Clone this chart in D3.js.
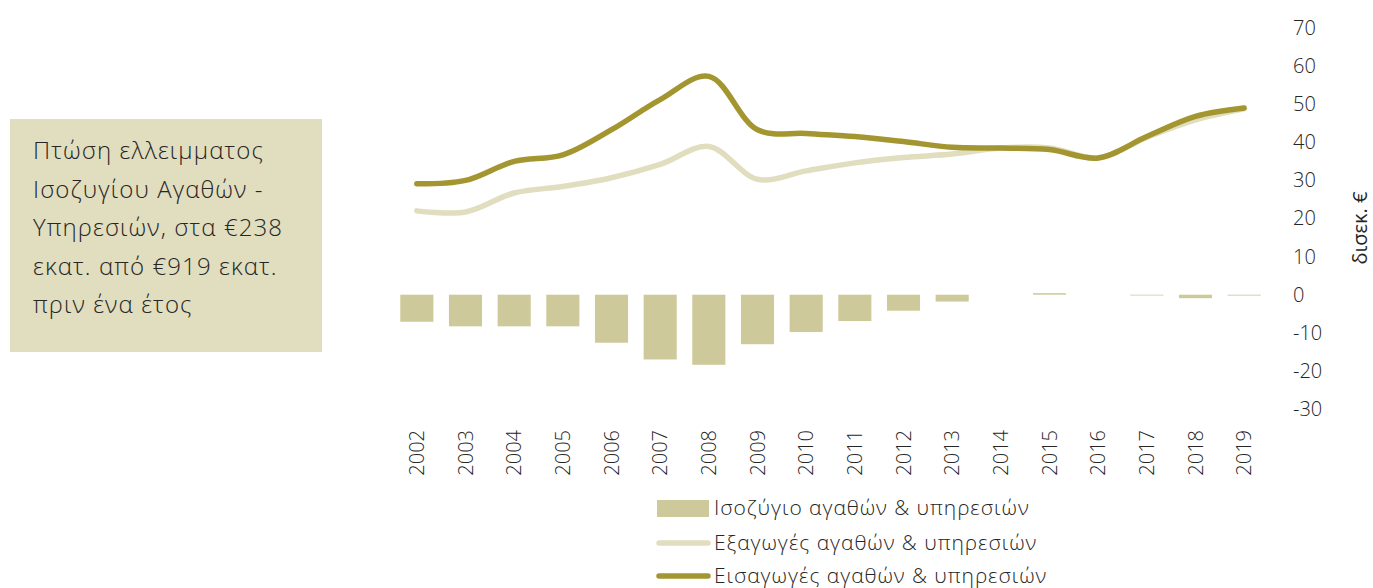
<!DOCTYPE html>
<html>
<head>
<meta charset="utf-8">
<script src="https://cdn.jsdelivr.net/npm/d3@7"></script>
<style>
  html, body { margin: 0; padding: 0; background: #fff; }
  svg text { font-family: "Open Sans", "Noto Sans", sans-serif; font-weight: 300; fill: #262626; }
</style>
</head>
<body>
<svg id="chart" width="1373" height="588"></svg>
<script>
// Years on the category axis
const years = ["2002","2003","2004","2005","2006","2007","2008","2009","2010",
               "2011","2012","2013","2014","2015","2016","2017","2018","2019"];

// Balance of goods & services (bn €)
const balance = [-7.1, -8.3, -8.3, -8.3, -12.6, -17.0, -18.4, -13.0, -9.8,
                 -6.9, -4.2, -1.8, 0.0, 0.4, 0.0, -0.2, -0.919, -0.238];

// Exports of goods & services (bn €)
const exportsVals = [22.0, 21.7, 26.7, 28.4, 30.7, 34.2, 38.9, 30.3, 32.5,
                     34.6, 36.0, 36.9, 38.5, 38.5, 35.9, 41.3, 45.9, 48.8];

// Imports of goods & services (bn €)
const importsVals = [29.1, 30.0, 35.0, 36.7, 43.3, 51.2, 57.3, 43.3, 42.3,
                     41.5, 40.2, 38.7, 38.5, 38.1, 35.9, 41.5, 46.8, 49.0];

const yTicks = [70, 60, 50, 40, 30, 20, 10, 0, -10, -20, -30];

const seriesNames = ["Ισοζύγιο αγαθών & υπηρεσιών",
                     "Εξαγωγές αγαθών & υπηρεσιών",
                     "Εισαγωγές αγαθών & υπηρεσιών"];

const noteLines = ["Πτώση ελλειμματος", "Ισοζυγίου Αγαθών -",
                   "Υπηρεσιών, στα €238", "εκατ. από €919 εκατ.", "πριν ένα έτος"];

const colBar = "#cec99a", colExp = "#e1ddbf", colImp = "#a39631", colBox = "#e1ddbf";

const svg = d3.select("#chart");

const x = d3.scaleBand().domain(years).range([392.5, 1268.5]).paddingInner(0.32).paddingOuter(0.16);
const y = d3.scaleLinear().domain([-30, 70]).range([409, 28]);

// Bars (zero values are left out)
svg.append("g").selectAll("rect").data(years.filter((d, i) => balance[i] !== 0)).join("rect")
  .attr("x", d => x(d))
  .attr("width", x.bandwidth())
  .attr("y", d => y(Math.max(0, balance[years.indexOf(d)])))
  .attr("height", d => Math.max(0.8, Math.abs(y(balance[years.indexOf(d)]) - y(0))))
  .attr("fill", colBar);

// Lines
const line = d3.line()
  .x((d, i) => x(years[i]) + x.bandwidth() / 2)
  .y(d => y(d))
  .curve(d3.curveCatmullRom.alpha(0.5));

svg.append("path").datum(exportsVals).attr("d", line)
  .attr("fill", "none").attr("stroke", colExp).attr("stroke-width", 5.5).attr("stroke-linecap", "round");
svg.append("path").datum(importsVals).attr("d", line)
  .attr("fill", "none").attr("stroke", colImp).attr("stroke-width", 5.5).attr("stroke-linecap", "round");

// Right value axis (labels only)
const yAxis = d3.axisRight(y).tickValues(yTicks).tickSize(0).tickPadding(0).tickFormat(d => String(d));
const ya = svg.append("g").attr("transform", "translate(1293,0)").call(yAxis);
ya.select(".domain").remove();
ya.selectAll("text").attr("font-size", 20).attr("font-family", "'Open Sans', sans-serif").attr("fill", "#262626");

svg.append("text")
  .attr("transform", "translate(1367,228) rotate(-90)")
  .attr("text-anchor", "middle")
  .attr("font-size", 20)
  .style("font-weight", 500)
  .text("δισεκ. €");

// Category axis (rotated year labels)
const xAxis = d3.axisBottom(x).tickSize(0).tickPadding(0);
const xa = svg.append("g").attr("transform", "translate(0,430)").call(xAxis);
xa.select(".domain").remove();
xa.selectAll("text")
  .attr("font-size", 20).attr("font-family", "'Open Sans', sans-serif").attr("fill", "#262626")
  .attr("transform", "rotate(-90)")
  .attr("text-anchor", "end")
  .attr("x", 0).attr("y", 0).attr("dy", "0.35em");

// Legend
const lg = svg.append("g");
lg.append("rect").attr("x", 657).attr("y", 500).attr("width", 52).attr("height", 17).attr("fill", colBar);
lg.append("line").attr("x1", 659).attr("x2", 708).attr("y1", 543).attr("y2", 543)
  .attr("stroke", colExp).attr("stroke-width", 5.5).attr("stroke-linecap", "round");
lg.append("line").attr("x1", 659).attr("x2", 708).attr("y1", 576).attr("y2", 576)
  .attr("stroke", colImp).attr("stroke-width", 5.5).attr("stroke-linecap", "round");
[508, 543, 576].forEach((cy, i) => {
  lg.append("text").attr("x", 714).attr("y", cy).attr("dy", "0.35em")
    .attr("font-size", 21).attr("letter-spacing", 0.95).text(seriesNames[i]);
});

// Annotation box
svg.append("rect").attr("x", 10).attr("y", 119).attr("width", 312).attr("height", 233).attr("fill", colBox);
svg.append("g").selectAll("text").data(noteLines).join("text")
  .attr("x", 33).attr("y", (d, i) => 151 + i * 38.4).attr("dy", "0.35em")
  .attr("font-size", 24).attr("letter-spacing", 1.1).text(d => d);
</script>
</body>
</html>
